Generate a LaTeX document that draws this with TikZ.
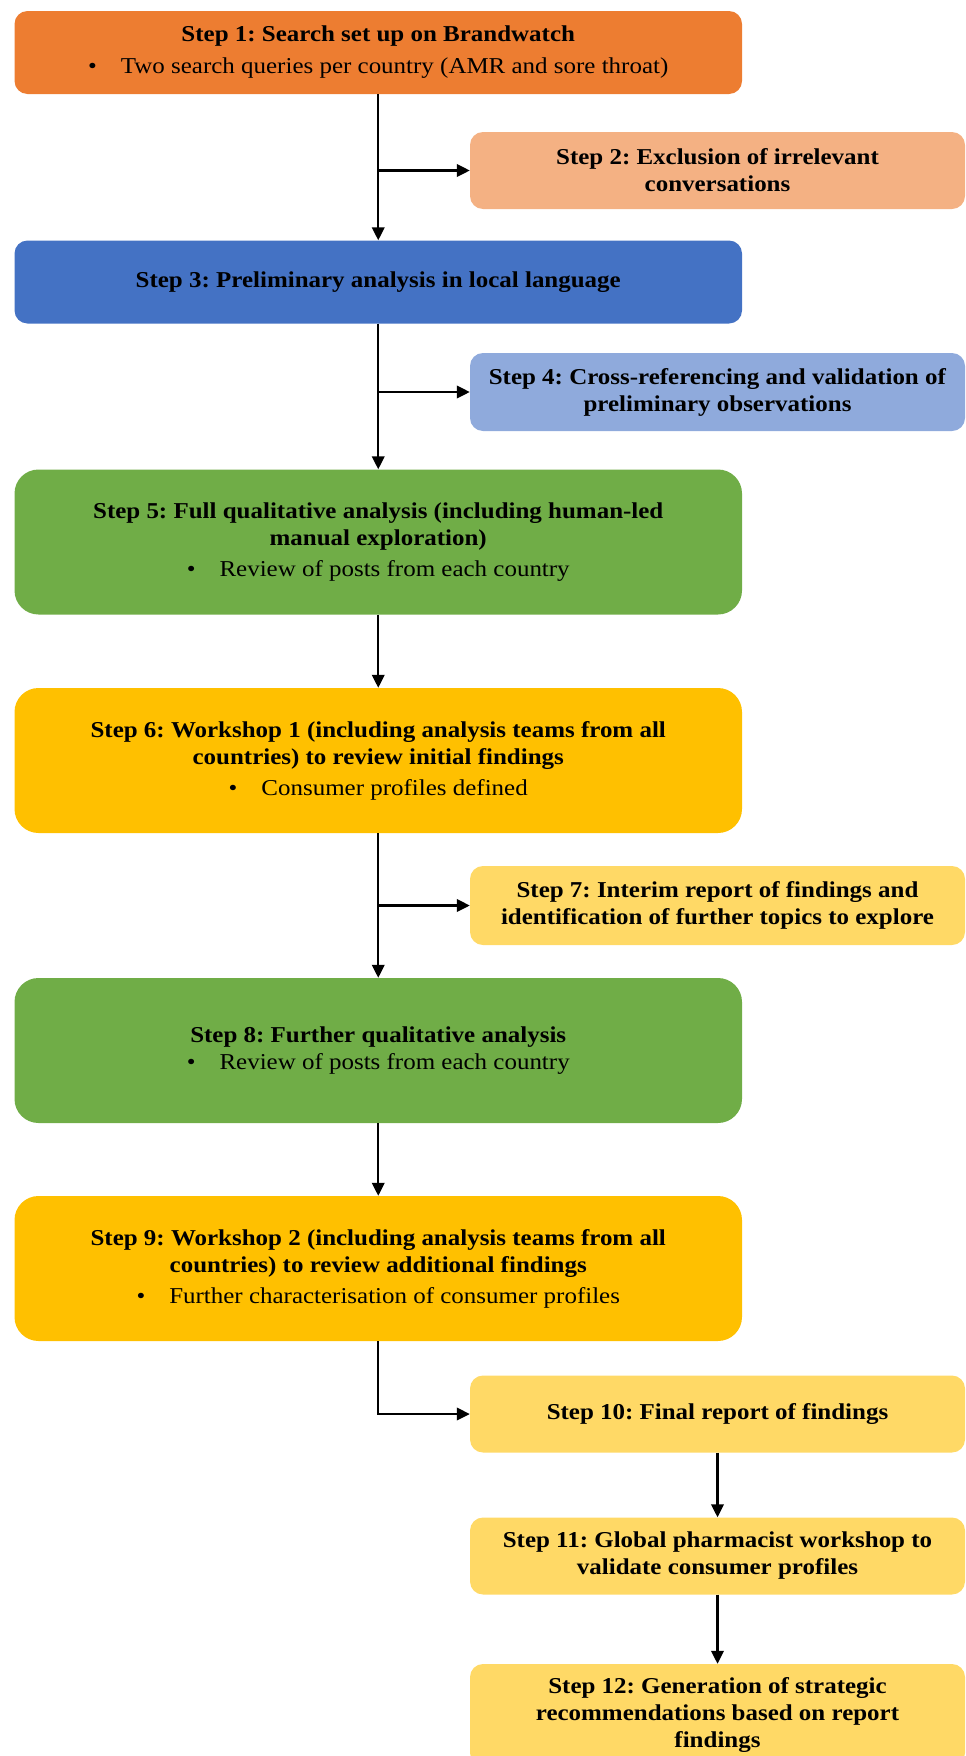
\documentclass[tikz,border=0pt]{standalone}
\usepackage{fontspec}
\setmainfont{Liberation Serif}[FakeStretch=1.1]
\usepackage{xcolor}
\usepackage{tikz}
\usetikzlibrary{arrows.meta,positioning}

\definecolor{stepone}{HTML}{ED7D31}
\definecolor{steptwo}{HTML}{F4B183}
\definecolor{stepblue}{HTML}{4472C4}
\definecolor{steplblue}{HTML}{8FAADC}
\definecolor{stepgreen}{HTML}{70AD47}
\definecolor{stepgold}{HTML}{FFC000}
\definecolor{steplgold}{HTML}{FFD966}

\newcommand{\bul}{\textbullet\hspace{24pt}}

\begin{document}
\frenchspacing
\begin{tikzpicture}[x=1pt,y=-1pt,>={Triangle[length=13pt,width=12.5pt]},
  box/.style={rectangle,rounded corners=13pt,inner sep=0pt,align=center,
    font=\fontsize{22.7}{27}\selectfont,text=black},
  mainbox/.style={box,minimum width=727.5pt},
  sidebox/.style={box,minimum width=495pt},
  tallbox/.style={mainbox,rounded corners=24pt,minimum height=145pt},
  flow/.style={->,line width=2.1pt}]
  \useasboundingbox (0,0) rectangle (966,1756);
  % main column
  \node[mainbox,fill=stepone,minimum height=83pt] (b1) at (378.25,52.5)
    {\textbf{Step 1: Search set up on Brandwatch}\\[5pt]
     \bul Two search queries per country (AMR and sore throat)};
  \node[mainbox,fill=stepblue,minimum height=83pt] (b3) at (378.25,282)
    {\textbf{Step 3: Preliminary analysis in local language}};
  \node[tallbox,fill=stepgreen] (b5) at (378.25,542)
    {\textbf{Step 5: Full qualitative analysis (including human-led}\\
     \textbf{manual exploration)}\\[4pt]
     \bul Review of posts from each country};
  \node[tallbox,fill=stepgold] (b6) at (378.25,760.5)
    {\textbf{Step 6: Workshop 1 (including analysis teams from all}\\
     \textbf{countries) to review initial findings}\\[4pt]
     \bul Consumer profiles defined};
  \node[tallbox,fill=stepgreen] (b8) at (378.25,1050.5)
    {\textbf{Step 8: Further qualitative analysis}\\
     \bul Review of posts from each country};
  \node[tallbox,fill=stepgold] (b9) at (378.25,1268.5)
    {\textbf{Step 9: Workshop 2 (including analysis teams from all}\\
     \textbf{countries) to review additional findings}\\[4pt]
     \bul Further characterisation of consumer profiles};
  % side column
  \node[sidebox,fill=steptwo,minimum height=77pt] (b2) at (717.5,170.5)
    {\textbf{Step 2: Exclusion of irrelevant}\\ \textbf{conversations}};
  \node[sidebox,fill=steplblue,minimum height=78pt] (b4) at (717.5,392)
    {\textbf{Step 4: Cross-referencing and validation of}\\
     \textbf{preliminary observations}};
  \node[sidebox,fill=steplgold,minimum height=79pt] (b7) at (717.5,905.5)
    {\textbf{Step 7: Interim report of findings and}\\
     \textbf{identification of further topics to explore}};
  \node[sidebox,fill=steplgold,minimum height=77pt] (b10) at (717.5,1414)
    {\textbf{Step 10: Final report of findings}};
  \node[sidebox,fill=steplgold,minimum height=77pt] (b11) at (717.5,1556)
    {\textbf{Step 11: Global pharmacist workshop to}\\
     \textbf{validate consumer profiles}};
  \node[sidebox,fill=steplgold,minimum height=102pt] (b12) at (717.5,1715)
    {\textbf{Step 12: Generation of strategic}\\
     \textbf{recommendations based on report}\\ \textbf{findings}};
  % connectors
  \draw[flow] (b1) -- (b3);
  \draw[flow] (b1.south |- b2) -- (b2);
  \draw[flow] (b3) -- (b5);
  \draw[flow] (b3.south |- b4) -- (b4);
  \draw[flow] (b5) -- (b6);
  \draw[flow] (b6) -- (b8);
  \draw[flow] (b6.south |- b7) -- (b7);
  \draw[flow] (b8) -- (b9);
  \draw[flow] (b9.south) |- (b10);
  \draw[flow] (b10) -- (b11);
  \draw[flow] (b11) -- (b12);
\end{tikzpicture}
\end{document}
